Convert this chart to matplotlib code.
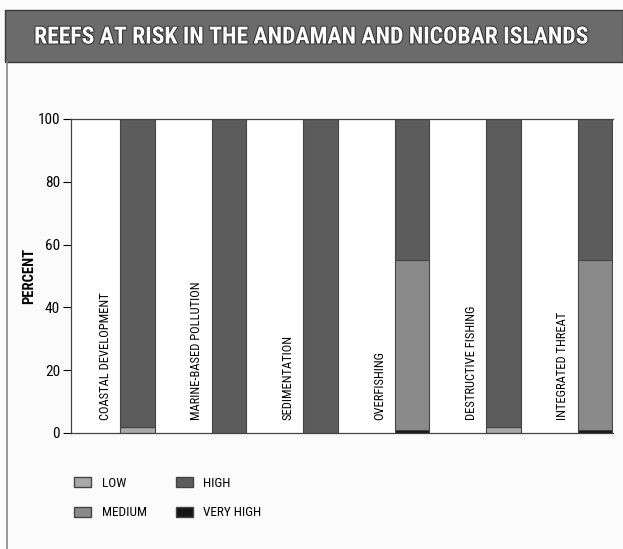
import numpy as np
import matplotlib
matplotlib.use("Agg")
import matplotlib.pyplot as plt
import matplotlib.patches as mpatches
import matplotlib.patheffects as pe
from matplotlib import font_manager

# pick a narrow family if one is installed
names = set(f.name for f in font_manager.fontManager.ttflist)
narrow = [n for n in ["Liberation Sans Narrow", "DejaVu Sans Condensed", "Roboto Condensed"] if n in names]
stretch = "normal"
if narrow:
    family = [narrow[0], "DejaVu Sans"]
else:
    family = ["DejaVu Sans"]
    stretch = "condensed"
plt.rcParams['font.family'] = family
plt.rcParams['font.stretch'] = stretch

categories = ["COASTAL DEVELOPMENT", "MARINE-BASED POLLUTION", "SEDIMENTATION",
              "OVERFISHING", "DESTRUCTIVE FISHING", "INTEGRATED THREAT"]
low = [2, 0, 0, 0, 2, 0]
very_high = [0, 0, 0, 1, 0, 1]
medium = [0, 0, 0, 54, 0, 54]
high = [98, 100, 100, 45, 98, 45]

colors = {"LOW": "#a9a9a9", "MEDIUM": "#8a8a8a", "HIGH": "#5c5c5c", "VERY HIGH": "#151515"}

fig = plt.figure(figsize=(6.23, 5.49), dpi=100)
fig.patch.set_facecolor("#fbfbfb")

# title banner
fig.patches.append(mpatches.Rectangle((5/623, 1-62/549), 618/623, 52/549, transform=fig.transFigure,
                                      facecolor="#6b6b6b", edgecolor="#3a3a3a", lw=1))
fig.text(312/623, 1-37/549, "REEFS AT RISK IN THE ANDAMAN AND NICOBAR ISLANDS", color="white",
         fontsize=17, fontweight="bold", ha="center", va="center",
         path_effects=[pe.withStroke(linewidth=1.5, foreground="#333333")])
# left border line
fig.lines.append(plt.Line2D([7/623, 7/623], [0, 1-62/549], transform=fig.transFigure, color="#888888", lw=1.2))

ax = fig.add_axes([71/623, 1-433/549, 542/623, 314/549])
ax.set_facecolor("white")
x = np.arange(len(categories))
w = 0.38
bottom = np.zeros(len(categories))
for name, vals in [("LOW", low), ("VERY HIGH", very_high), ("MEDIUM", medium), ("HIGH", high)]:
    ax.bar(x, vals, w, bottom=bottom, color=colors[name], edgecolor="#444444", linewidth=0.8)
    bottom += np.array(vals)

for i, c in enumerate(categories):
    ax.text(i - 0.355, 4, c, rotation=90, ha="center", va="bottom", fontsize=9)

ax.set_xlim(-0.727, len(categories) - 1 + 0.197)
ax.set_ylim(0, 100)
ax.set_yticks([0, 20, 40, 60, 80, 100])
ax.tick_params(axis="y", length=6, width=0.8, labelsize=11, pad=2)
ax.set_xticks([])
ax.spines["right"].set_visible(False)
for s in ["left", "top", "bottom"]:
    ax.spines[s].set_color("#444444")
    ax.spines[s].set_linewidth(0.9)
ax.set_ylabel("PERCENT", fontsize=10.5, fontweight="bold", labelpad=1)

handles = [mpatches.Patch(facecolor=colors[n], edgecolor="#444444", label=n)
           for n in ["LOW", "MEDIUM", "HIGH", "VERY HIGH"]]
fig.legend(handles=handles, ncol=2, loc="upper left", bbox_to_anchor=(62/623, 1-465/549),
           frameon=False, fontsize=9.5, handlelength=1.3, handleheight=0.8,
           columnspacing=2.2, labelspacing=1.25, handletextpad=0.8)

fig.savefig("out.png", dpi=100, facecolor=fig.get_facecolor())
